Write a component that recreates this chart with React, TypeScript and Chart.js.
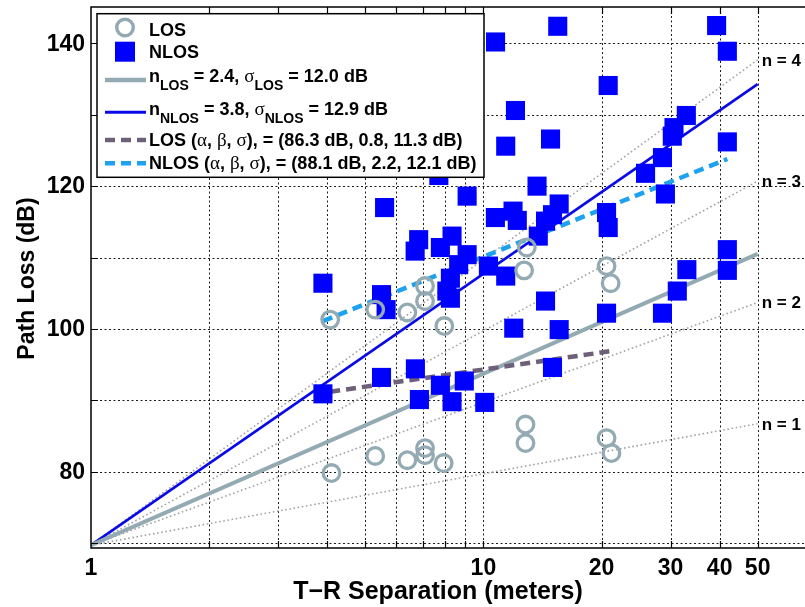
import React, { useEffect, useRef } from "react";
import { Chart, registerables } from "chart.js";

Chart.register(...registerables);

// ---------- data ----------
const LOS_DIST = [4.07, 5.3, 6.4, 7.1, 7.1, 7.95, 12.9, 12.7, 20.6, 21.1, 4.1, 5.3, 6.4, 7.1, 7.1, 7.92, 12.8, 12.8, 20.6, 21.2];
const LOS_PL = [101.3, 102.7, 102.3, 106.0, 103.9, 100.4, 111.4, 108.2, 108.8, 106.4, 79.8, 82.2, 81.6, 83.3, 82.3, 81.2, 86.6, 84.0, 84.7, 82.6];

const NLOS_DIST = [
  3.9, 3.9, 5.6, 5.5, 5.65, 5.5, 6.84, 6.7, 7.77, 8.32,
  9.09, 8.65, 8.24, 8.07, 10.3, 11.4, 11.95, 10.73, 11.9, 12.2,
  9.09, 13.7, 7.7, 11.4, 15.47, 10.74, 39.3, 41.85, 20.8, 12.07,
  14.83, 41.85, 32.9, 30.6, 30.3, 28.6, 25.9, 29.1, 15.6, 15.0,
  14.4, 13.8, 20.6, 20.8, 14.4, 20.6, 28.6, 31.2, 33.0, 41.85,
  41.85, 15.6, 6.71, 6.87, 7.77, 8.32, 8.94, 10.08, 15.0, 8.24,
];
const NLOS_PL = [
  106.4, 90.9, 117.0, 104.8, 102.7, 93.2, 112.5, 110.9, 111.4, 113.0,
  110.4, 109.0, 107.1, 105.3, 108.8, 107.4, 100.1, 115.6, 116.5, 115.2,
  118.6, 120.0, 121.5, 125.6, 142.4, 140.2, 142.5, 138.9, 134.1, 130.6,
  126.6, 126.2, 129.9, 128.2, 127.0, 124.0, 121.8, 118.9, 117.5, 116.0,
  115.1, 113.0, 116.3, 114.2, 103.9, 102.2, 102.2, 105.3, 108.3, 111.1,
  108.2, 99.9, 94.4, 90.1, 92.1, 89.8, 92.7, 89.7, 94.6, 104.3,
];

// path-loss exponent lines (1 m .. 50 m)
const LINE_DIST = [1, 50];
const N_LOS_PL = [69.7, 110.5];
const N_NLOS_PL = [69.7, 134.3];

// floating-intercept fits
const LOS_FIT_DIST = [4.07, 21.2];
const LOS_FIT_PL = [91.2, 96.9];
const NLOS_FIT_DIST = [3.9, 41.85];
const NLOS_FIT_PL = [101.1, 123.8];

// reference n = 1..4 lines
const REF_N = [1, 2, 3, 4];
const REF_START_PL = [69.7, 69.7, 69.7, 69.7];
const REF_END_PL = [86.7, 103.7, 120.7, 137.7];

// ticks
const X_TICKS = [1, 2, 3, 4, 5, 6, 7, 8, 9, 10, 20, 30, 40, 50];
const X_LABELS = [1, 10, 20, 30, 40, 50];
const Y_TICKS = [70, 80, 90, 100, 110, 120, 130, 140];
const Y_LABELS = [80, 100, 120, 140];

// ---------- styles ----------
const LOS_COLOR = "#94aab3";
const NLOS_COLOR = "#0000ff";
const NLOS_LINE_COLOR = "#0a0ae8";
const LOS_FIT_COLOR = "#6e6079";
const NLOS_FIT_COLOR = "#1ea2ef";
const REF_COLOR = "#a3a3a3";
const SANS = '"Liberation Sans", Arial, sans-serif';
const SERIF = '"Liberation Serif", "Times New Roman", serif';

const CW = 815;
const CH = 607;

const pts = (xs: number[], ys: number[]) => xs.map((x, i) => ({ x, y: ys[i] }));

type Part = { t: string; f: string; dy?: number };
function drawRich(ctx: CanvasRenderingContext2D, x: number, y: number, parts: Part[]) {
  let cx = x;
  for (const p of parts) {
    ctx.font = p.f;
    ctx.fillText(p.t, cx, y + (p.dy || 0));
    cx += ctx.measureText(p.t).width;
  }
}

const decorPlugin = {
  id: "decor",
  beforeDatasetsDraw(chart: any) {
    const { ctx, chartArea: a, scales } = chart;
    const xs = scales.x, ys = scales.y;
    ctx.save();
    ctx.strokeStyle = "#1a1a1a";
    ctx.lineWidth = 1;
    ctx.setLineDash([2, 2.5]);
    ctx.beginPath();
    for (const v of X_TICKS) {
      if (v === 1) continue;
      const px = Math.round(xs.getPixelForValue(v)) + 0.5;
      ctx.moveTo(px, a.top);
      ctx.lineTo(px, a.bottom);
    }
    for (const v of Y_TICKS) {
      const py = Math.round(ys.getPixelForValue(v)) + 0.5;
      ctx.moveTo(a.left, py);
      ctx.lineTo(a.right, py);
    }
    ctx.stroke();
    ctx.restore();
  },
  afterDatasetsDraw(chart: any) {
    const { ctx, chartArea: a, scales } = chart;
    const xs = scales.x, ys = scales.y;
    ctx.save();
    // frame + inner ticks
    ctx.strokeStyle = "#000";
    ctx.lineWidth = 1.5;
    ctx.setLineDash([]);
    ctx.beginPath();
    ctx.moveTo(a.left, a.top);
    ctx.lineTo(a.right, a.top);
    ctx.lineTo(a.right, a.bottom);
    ctx.lineTo(a.left, a.bottom);
    ctx.closePath();
    ctx.stroke();
    ctx.lineWidth = 1.2;
    ctx.beginPath();
    for (const v of X_TICKS) {
      if (v === 1) continue;
      const px = Math.round(xs.getPixelForValue(v)) + 0.5;
      ctx.moveTo(px, a.bottom);
      ctx.lineTo(px, a.bottom - 7);
      ctx.moveTo(px, a.top);
      ctx.lineTo(px, a.top + 7);
    }
    for (const v of Y_TICKS) {
      const py = Math.round(ys.getPixelForValue(v)) + 0.5;
      ctx.moveTo(a.left, py);
      ctx.lineTo(a.left + 7, py);
    }
    ctx.stroke();

    // tick labels
    ctx.fillStyle = "#000";
    ctx.font = `bold 23px ${SANS}`;
    ctx.textAlign = "center";
    ctx.textBaseline = "middle";
    for (const v of X_LABELS) {
      ctx.fillText(String(v), xs.getPixelForValue(v), a.bottom + 21);
    }
    ctx.textAlign = "right";
    for (const v of Y_LABELS) {
      ctx.fillText(String(v), a.left - 6, ys.getPixelForValue(v) + 1);
    }

    // n = k labels
    ctx.font = `bold 17px ${SANS}`;
    ctx.textAlign = "left";
    ctx.textBaseline = "middle";
    REF_N.forEach((n, i) => {
      ctx.fillText(`n = ${n}`, xs.getPixelForValue(LINE_DIST[1]) + 4, ys.getPixelForValue(REF_END_PL[i]) + 1);
    });

    // legend
    const L = 97, T = 13.7, W = 387, H = 163.6;
    ctx.fillStyle = "#fff";
    ctx.fillRect(L, T, W, H);
    ctx.strokeStyle = "#000";
    ctx.lineWidth = 1.5;
    ctx.strokeRect(L, T, W, H);

    const mx = 125, lx0 = 105, lx1 = 146, tx = 149;
    ctx.beginPath();
    ctx.arc(mx, 27.5, 8.3, 0, Math.PI * 2);
    ctx.strokeStyle = LOS_COLOR;
    ctx.lineWidth = 3.5;
    ctx.stroke();
    ctx.fillStyle = NLOS_COLOR;
    ctx.fillRect(mx - 10, 41.7, 20, 20);
    const seg = (y: number, color: string, w: number, dash: number[]) => {
      ctx.beginPath();
      ctx.setLineDash(dash);
      ctx.strokeStyle = color;
      ctx.lineWidth = w;
      ctx.moveTo(lx0, y);
      ctx.lineTo(lx1, y);
      ctx.stroke();
    };
    seg(80, LOS_COLOR, 4.5, []);
    seg(112.3, NLOS_LINE_COLOR, 3, []);
    seg(140, LOS_FIT_COLOR, 4.5, [10, 6]);
    seg(163.3, NLOS_FIT_COLOR, 4.5, [10, 6]);
    ctx.setLineDash([]);

    ctx.fillStyle = "#000";
    ctx.textAlign = "left";
    ctx.textBaseline = "alphabetic";
    const B = `bold 18px ${SANS}`;
    const S = `bold 14px ${SANS}`;
    const G = `19px ${SERIF}`;
    drawRich(ctx, tx, 35.5, [{ t: "LOS", f: B }]);
    drawRich(ctx, tx, 58.3, [{ t: "NLOS", f: B }]);
    drawRich(ctx, tx, 82.3, [
      { t: "n", f: B }, { t: "LOS", f: S, dy: 8 }, { t: " = 2.4, ", f: B },
      { t: "σ", f: G }, { t: "LOS", f: S, dy: 8 }, { t: " = 12.0 dB", f: B },
    ]);
    drawRich(ctx, tx, 115, [
      { t: "n", f: B }, { t: "NLOS", f: S, dy: 8 }, { t: " = 3.8, ", f: B },
      { t: "σ", f: G }, { t: "NLOS", f: S, dy: 8 }, { t: " = 12.9 dB", f: B },
    ]);
    drawRich(ctx, tx, 146, [
      { t: "LOS (", f: B }, { t: "α", f: G }, { t: ", ", f: B }, { t: "β", f: G },
      { t: ", ", f: B }, { t: "σ", f: G }, { t: "), = (86.3 dB, 0.8, 11.3 dB)", f: B },
    ]);
    drawRich(ctx, tx, 169.3, [
      { t: "NLOS (", f: B }, { t: "α", f: G }, { t: ", ", f: B }, { t: "β", f: G },
      { t: ", ", f: B }, { t: "σ", f: G }, { t: "), = (88.1 dB, 2.2, 12.1 dB)", f: B },
    ]);

    // axis titles
    ctx.font = `bold 25px ${SANS}`;
    ctx.textAlign = "center";
    ctx.textBaseline = "middle";
    ctx.fillText("T\u2212R Separation (meters)", 438, 592);
    ctx.font = `bold 23px ${SANS}`;
    ctx.translate(28, 278.5);
    ctx.rotate(-Math.PI / 2);
    ctx.fillText("Path Loss (dB)", 0, 0);
    ctx.restore();
  },
};

export default function App() {
  const ref = useRef<HTMLCanvasElement>(null);
  useEffect(() => {
    const datasets: any[] = [
      {
        label: "LOS",
        data: pts(LOS_DIST, LOS_PL),
        showLine: false,
        pointStyle: "circle",
        pointRadius: 8.3,
        pointBorderWidth: 3.3,
        pointBackgroundColor: "rgba(0,0,0,0)",
        pointBorderColor: LOS_COLOR,
        order: 0,
      },
      {
        label: "NLOS",
        data: pts(NLOS_DIST, NLOS_PL),
        showLine: false,
        pointStyle: "rect",
        pointRadius: 13.5,
        pointBorderWidth: 0,
        pointBackgroundColor: NLOS_COLOR,
        pointBorderColor: NLOS_COLOR,
        order: 1,
      },
      {
        label: "LOS fit",
        data: pts(LOS_FIT_DIST, LOS_FIT_PL),
        showLine: true,
        borderColor: LOS_FIT_COLOR,
        borderWidth: 4.5,
        borderDash: [10, 6],
        pointRadius: 0,
        order: 2,
      },
      {
        label: "NLOS fit",
        data: pts(NLOS_FIT_DIST, NLOS_FIT_PL),
        showLine: true,
        borderColor: NLOS_FIT_COLOR,
        borderWidth: 4.5,
        borderDash: [10, 6],
        pointRadius: 0,
        order: 2,
      },
      {
        label: "n LOS",
        data: pts(LINE_DIST, N_LOS_PL),
        showLine: true,
        borderColor: LOS_COLOR,
        borderWidth: 4,
        pointRadius: 0,
        order: 3,
      },
      {
        label: "n NLOS",
        data: pts(LINE_DIST, N_NLOS_PL),
        showLine: true,
        borderColor: NLOS_LINE_COLOR,
        borderWidth: 2.7,
        pointRadius: 0,
        order: 3,
      },
      ...REF_N.map((n, i) => ({
        label: `n = ${n}`,
        data: pts(LINE_DIST, [REF_START_PL[i], REF_END_PL[i]]),
        showLine: true,
        borderColor: REF_COLOR,
        borderWidth: 1.6,
        borderDash: [1.6, 2.6],
        pointRadius: 0,
        order: 4,
      })),
    ];

    const chart = new Chart(ref.current!, {
      type: "scatter",
      data: { datasets },
      options: {
        animation: false,
        responsive: false,
        maintainAspectRatio: false,
        devicePixelRatio: 1,
        events: [],
        layout: { autoPadding: false, padding: { top: 7, left: 0, right: 0, bottom: 0 } },
        plugins: { legend: { display: false }, tooltip: { enabled: false } },
        scales: {
          x: {
            type: "logarithmic",
            min: 1,
            max: 70,
            afterBuildTicks: (s: any) => {
              s.ticks = X_TICKS.map((v) => ({ value: v }));
            },
            afterFit: (s: any) => {
              s.height = 59;
            },
            grid: { display: false, drawTicks: false },
            border: { display: false },
            ticks: { display: false },
          },
          y: {
            type: "linear",
            min: 69.3,
            max: 145.1,
            afterBuildTicks: (s: any) => {
              s.ticks = Y_TICKS.map((v) => ({ value: v }));
            },
            afterFit: (s: any) => {
              s.width = 91;
            },
            grid: { display: false, drawTicks: false },
            border: { display: false },
            ticks: { display: false },
          },
        },
      } as any,
      plugins: [decorPlugin as any],
    });
    return () => chart.destroy();
  }, []);

  return (
    <div
      style={{
        position: "fixed",
        left: 0,
        top: 0,
        width: 805,
        height: CH,
        overflow: "hidden",
        background: "#fff",
      }}
    >
      <div style={{ position: "absolute", left: 0, top: 0, width: CW, height: CH }}>
        <canvas ref={ref} width={CW} height={CH} style={{ display: "block", width: CW, height: CH }} />
      </div>
    </div>
  );
}
